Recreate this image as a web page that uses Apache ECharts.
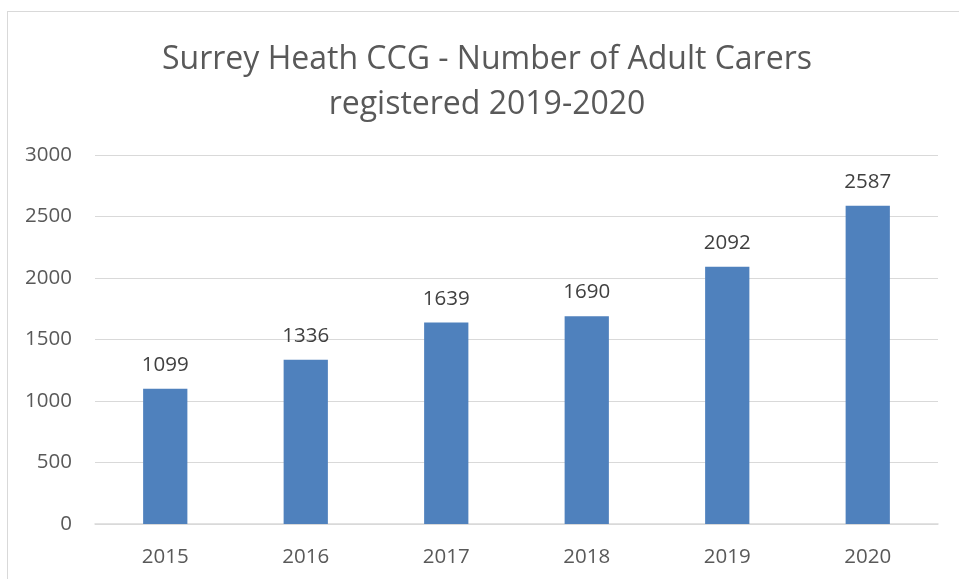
<!DOCTYPE html>
<html lang="en">
<head>
    <meta charset="utf-8">
    <title>Surrey Heath CCG - Adult Carers</title>
    <style>
        body { margin: 0; overflow: hidden; background: #fff; }
        #frame {
            position: absolute; left: 7px; top: 11px;
            width: 960px; height: 600px;
            border: 1px solid #d9d9d9; box-sizing: border-box;
        }
        #chart-container { position: absolute; left: 0; top: 0; width: 959px; height: 579px; }
    </style>
</head>
<body>
    <div id="frame"></div>
    <div id="chart-container"></div>

    <script src="https://cdn.jsdelivr.net/npm/echarts@6/dist/echarts.min.js"></script>
    <script>
        var years = ['2015', '2016', '2017', '2018', '2019', '2020'];
        var carers = [1099, 1336, 1639, 1690, 2092, 2587];
        var titleText = 'Surrey Heath CCG - Number of Adult Carers\nregistered 2019-2020';

        var textColor = '#595959';
        var fontName = '"Open Sans", "Noto Sans", sans-serif';

        var myChart = echarts.init(document.getElementById('chart-container'));

        var option = {
            animation: false,
            title: {
                text: titleText,
                left: 482,
                textAlign: 'center',
                top: 32,
                textStyle: {
                    color: textColor,
                    fontFamily: fontName,
                    fontWeight: 'normal',
                    fontSize: 32,
                    lineHeight: 45
                }
            },
            grid: {
                left: 95,
                right: 21,
                top: 155,
                bottom: 55
            },
            xAxis: {
                type: 'category',
                data: years,
                axisLine: { lineStyle: { color: '#d9d9d9', width: 1.5 } },
                axisTick: { show: false },
                axisLabel: {
                    color: textColor,
                    fontFamily: fontName,
                    fontSize: 20.5,
                    margin: 23
                }
            },
            yAxis: {
                type: 'value',
                min: 0,
                max: 3000,
                interval: 500,
                axisLine: { show: false },
                axisTick: { show: false },
                splitLine: { lineStyle: { color: '#d9d9d9', width: 1.2 } },
                axisLabel: {
                    color: textColor,
                    fontFamily: fontName,
                    fontSize: 20.5,
                    margin: 23,
                    formatter: function (v) { return String(v); }
                }
            },
            series: [
                {
                    type: 'bar',
                    data: carers,
                    barWidth: '31.5%',
                    itemStyle: { color: '#4f81bd' },
                    label: {
                        show: true,
                        position: 'top',
                        distance: 13,
                        color: '#404040',
                        fontFamily: fontName,
                        fontSize: 20.5
                    }
                }
            ]
        };

        myChart.setOption(option);
    </script>
</body>
</html>
